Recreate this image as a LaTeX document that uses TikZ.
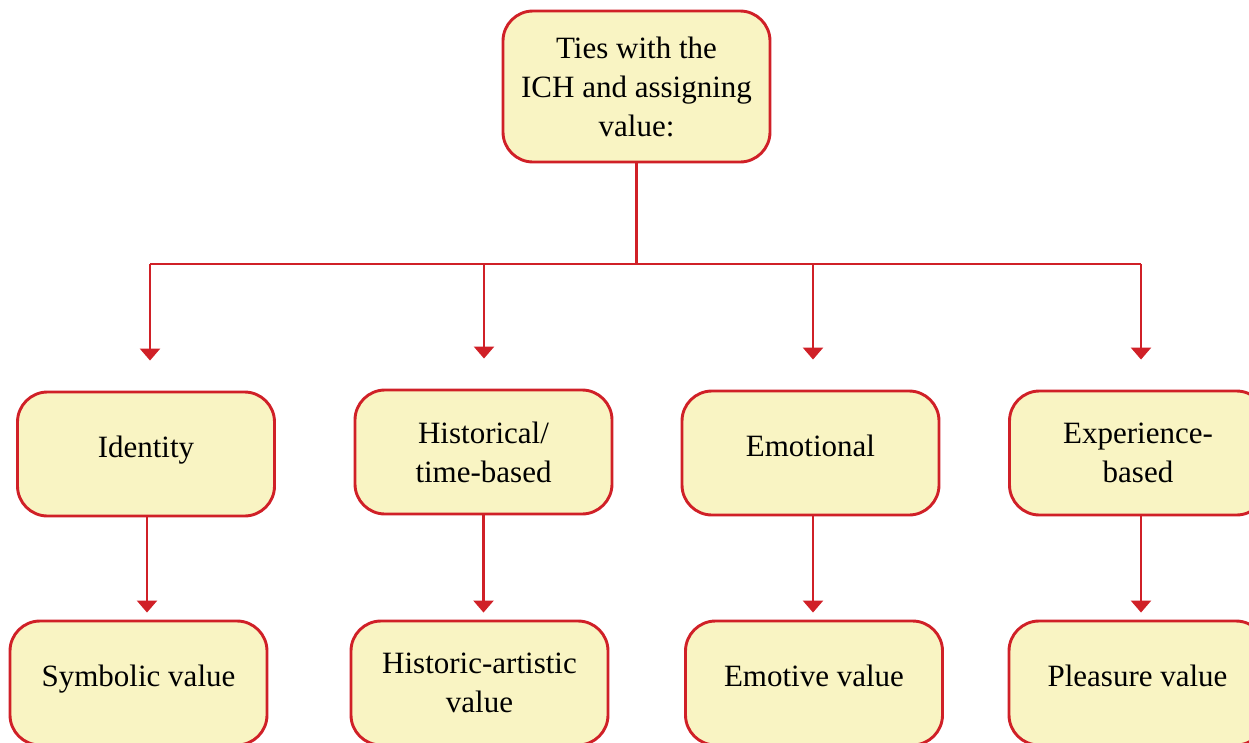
\documentclass[tikz,border=0pt]{standalone}
\usepackage{fontspec}
\setmainfont{Liberation Serif}
\usetikzlibrary{arrows.meta}
\definecolor{boxred}{HTML}{D02027}
\definecolor{boxfill}{HTML}{F9F4C3}
\begin{document}
\begin{tikzpicture}[x=1pt,y=1pt,
  vbox/.style={draw=boxred, fill=boxfill, line width=2.9pt, rounded corners=30pt,
    minimum width=257pt, minimum height=124pt, align=center, inner sep=0pt,
    font=\fontsize{31}{39}\selectfont, text=black},
  oneline/.style={text height=21pt, text depth=14pt},
  conn/.style={draw=boxred, line width=2.5pt},
  arr/.style={conn, -{Triangle[width=20pt,length=12pt]}}
]
\useasboundingbox (0,0) rectangle (1249,-742);
\clip (0,0) rectangle (1249,-742);
\node[vbox, minimum width=267pt, minimum height=151pt] (top) at (636.5,-86.5) {Ties with the\\ICH and assigning\\value:};
\node[vbox, oneline] (b1) at (146,-454) {Identity};
\node[vbox] (b2) at (483.5,-452) {Historical/\\time-based};
\node[vbox, oneline] (b3) at (810.5,-453) {Emotional};
\node[vbox] (b4) at (1138,-453) {Experience-\\based};
\node[vbox, oneline] (c1) at (138.5,-683) {Symbolic value};
\node[vbox] (c2) at (479.5,-683) {Historic-artistic\\value};
\node[vbox, oneline] (c3) at (814,-683) {Emotive value};
\node[vbox, oneline] (c4) at (1137.5,-683) {Pleasure value};
\coordinate (j) at (636.5,-264);
\coordinate (j1) at (150,-264);
\coordinate (j2) at (484,-264);
\coordinate (j3) at (813,-264);
\coordinate (j4) at (1141,-264);
\draw[conn] (top.south) -- (j);
\draw[conn] (j1) -- (j4);
\draw[arr, shorten >=30pt] (j1) -- (j1 |- b1.north);
\draw[arr, shorten >=30pt] (j2) -- (j2 |- b2.north);
\draw[arr, shorten >=30pt] (j3) -- (j3 |- b3.north);
\draw[arr, shorten >=30pt] (j4) -- (j4 |- b4.north);
\draw[arr, shorten >=7pt] ([xshift=1pt]b1.south) -- ([xshift=1pt]b1.south |- c1.north);
\draw[arr, shorten >=7pt] (b2.south) -- (b2.south |- c2.north);
\draw[arr, shorten >=7pt] ([xshift=2.5pt]b3.south) -- ([xshift=2.5pt]b3.south |- c3.north);
\draw[arr, shorten >=7pt] ([xshift=3pt]b4.south) -- ([xshift=3pt]b4.south |- c4.north);
\end{tikzpicture}
\end{document}
